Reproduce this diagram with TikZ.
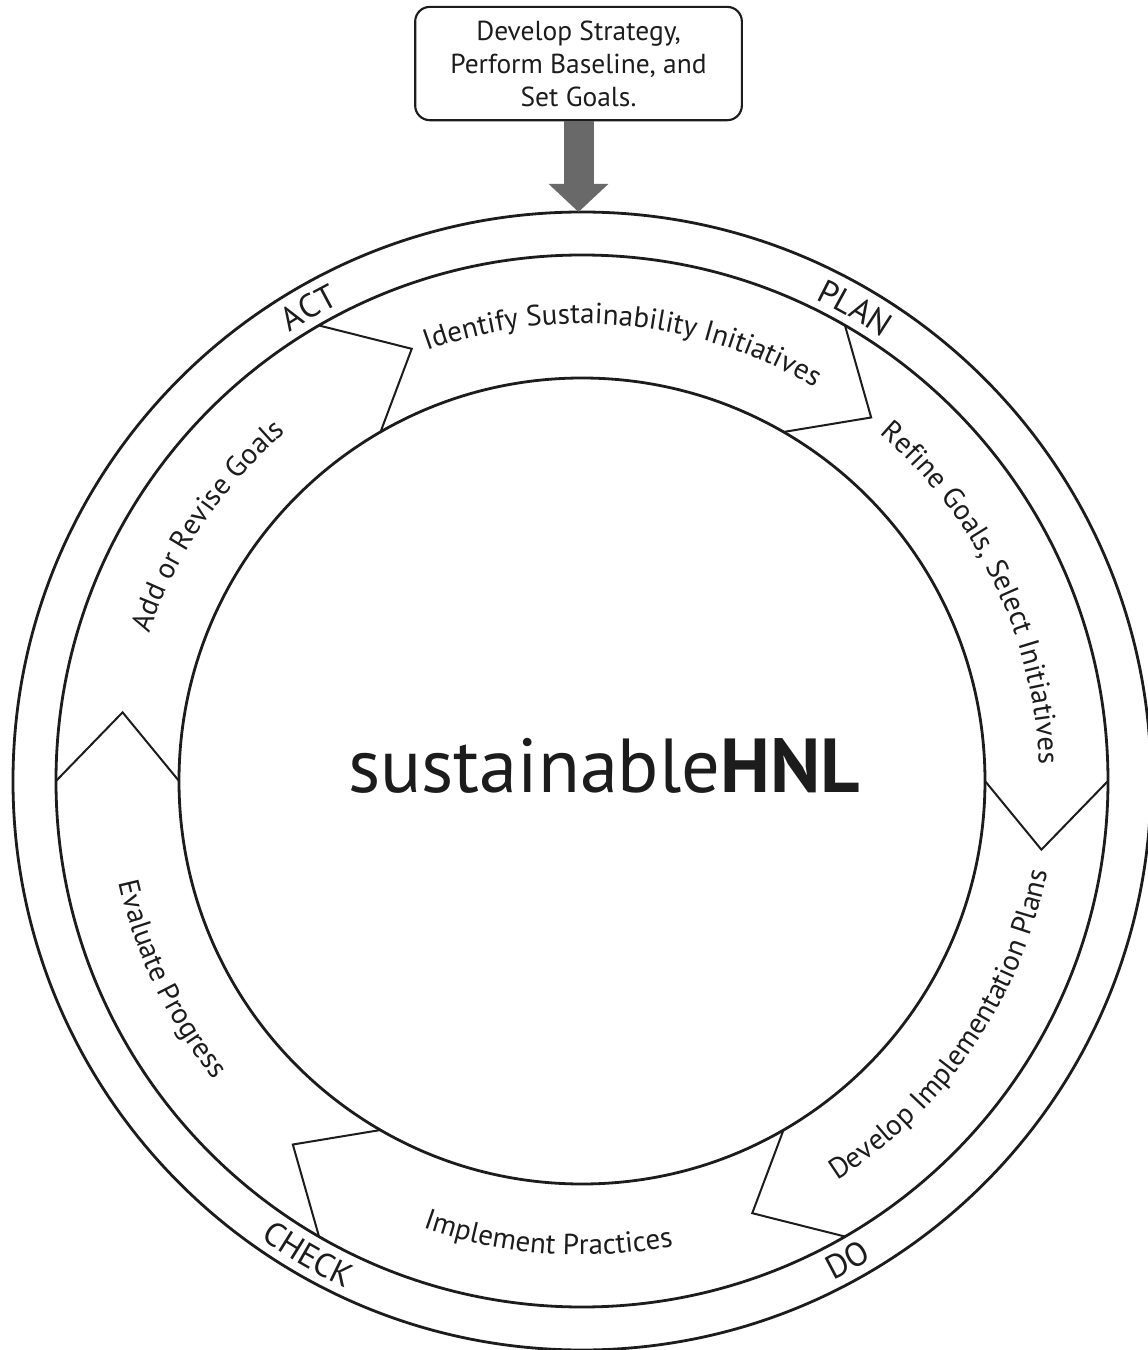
\documentclass[tikz,border=0pt]{standalone}
\usepackage{fontspec}
\setmainfont{PT Sans}
\usetikzlibrary{decorations.text,arrows.meta}

\definecolor{ink}{RGB}{28,28,28}
\definecolor{feedgray}{RGB}{105,105,105}

\newcommand{\segfont}{\fontsize{21.8}{25}\selectfont}
\newcommand{\phasefont}{\fontsize{25}{28}\selectfont}

\begin{document}
\begin{tikzpicture}[
  x=1pt, y=1pt,
  ring/.style={circle, draw=ink, line width=2.1pt, inner sep=0pt, outer sep=0pt},
  notch/.style={draw=ink, line width=1.5pt, line join=miter},
  startbox/.style={draw=ink, line width=1.6pt, rounded corners=11pt,
    minimum width=245pt, minimum height=85pt, align=center,
    font=\fontsize{20.6}{24.75}\selectfont, text=ink},
  feed/.style={draw=feedgray, line width=22.5pt,
    -{Triangle[width=43.5pt,length=21pt]}},
  arctext/.style={decorate, decoration={text along path, text align=center,
    text color=ink, text={#1}}},
]
\useasboundingbox (-436.5,-426.75) rectangle (423.75,585.75);

% the three rings of the cycle
\node[ring, minimum size=853.5pt] (outer)  at (0,0) {};
\node[ring, minimum size=789pt]   (middle) at (0,0) {};
\node[ring, minimum size=604.5pt] (inner)  at (0,0) {};

% chevron joints between the six steps (pointing clockwise)
\foreach \a [evaluate=\a as \b using \a-8.5] in {120,60,0,300,240,180}
  \draw[notch] (middle.\a) -- (\b:348.4) -- (inner.\a);

% starting box and the feed arrow into the cycle
\node[startbox] (box) at (-2.6,538.1) {Develop Strategy,\\Perform Baseline, and\\Set Goals.};
\draw[feed] (box.south) -- (box.south |- outer.north);

% centre title
\node[anchor=base, font=\fontsize{57.4}{62}\selectfont, text=ink] (brand) at (16.5,-8.25)
  {sustainable\textbf{HNL}};

% step labels, upper half (clockwise, letters facing outward)
\path[arctext={|\segfont|Identify Sustainability Initiatives}]
  (119.6:343) arc[start angle=119.6, end angle=49.6, radius=343];
\path[arctext={|\segfont|Refine Goals, Select Initiatives}]
  (60.75:343) arc[start angle=60.75, end angle=-9.25, radius=343];
\path[arctext={|\segfont|Add or Revise Goals}]
  (180.75:343) arc[start angle=180.75, end angle=110.75, radius=343];

% step labels, lower half (counter-clockwise, letters facing inward)
\path[arctext={|\segfont|Develop Implementation Plans}]
  (-69.25:355.5) arc[start angle=-69.25, end angle=0.75, radius=355.5];
\path[arctext={|\segfont|Implement Practices}]
  (-129.25:355.5) arc[start angle=-129.25, end angle=-59.25, radius=355.5];
\path[arctext={|\segfont|Evaluate Progress}]
  (170.75:355.5) arc[start angle=170.75, end angle=240.75, radius=355.5];

% phase names in the outer band
\path[arctext={|\phasefont|ACT}]
  (140:401.5) arc[start angle=140, end angle=100, radius=401.5];
\path[arctext={|\phasefont|PLAN}]
  (80:401.5) arc[start angle=80, end angle=40, radius=401.5];
\path[arctext={|\phasefont|DO}]
  (-81:419.5) arc[start angle=-81, end angle=-41, radius=419.5];
\path[arctext={|\phasefont|CHECK}]
  (-140:419.5) arc[start angle=-140, end angle=-100, radius=419.5];
\end{tikzpicture}
\end{document}
